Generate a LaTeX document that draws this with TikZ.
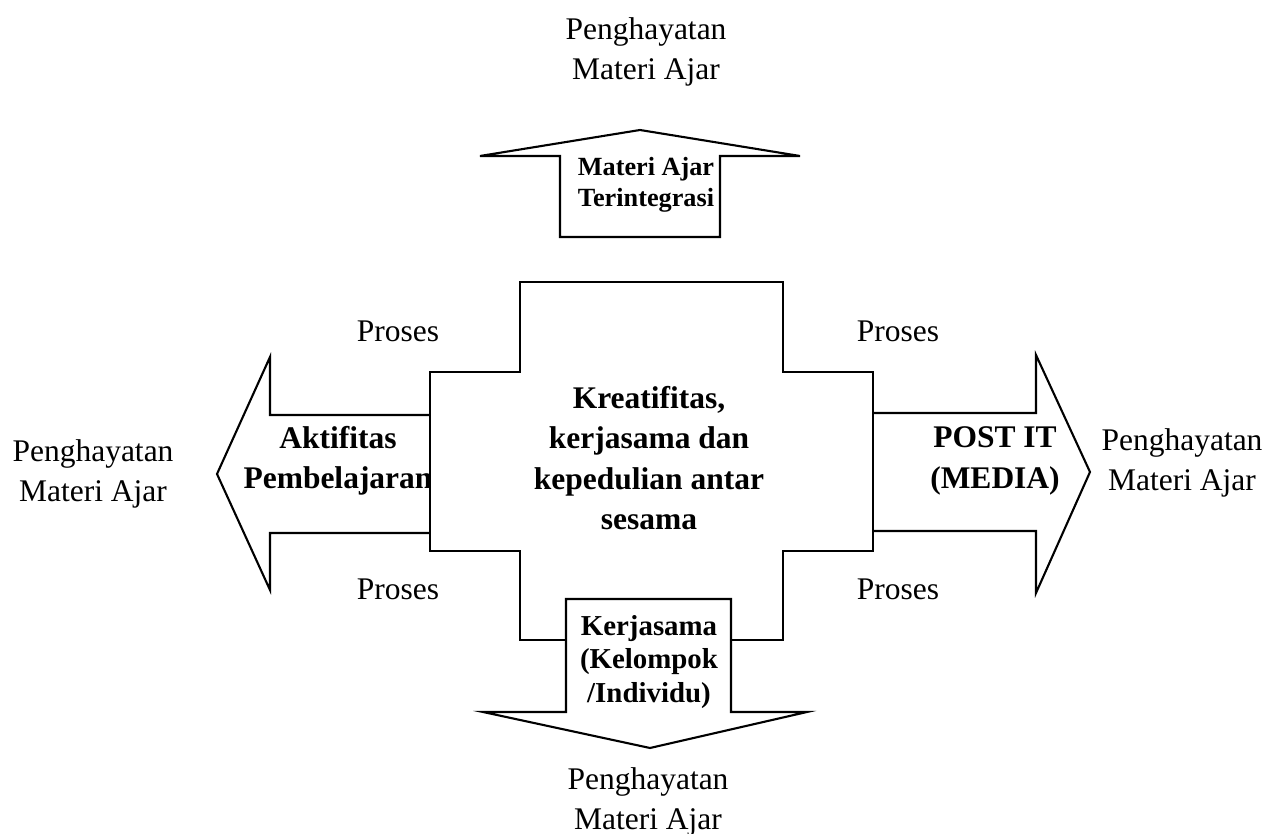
\documentclass[tikz,border=0pt]{standalone}
\usepackage{fontspec}
\setmainfont{Liberation Serif}
\begin{document}
\begin{tikzpicture}[x=0.381pt,y=-0.381pt,
    outer/.style={font=\fontsize{12}{15}\selectfont,align=center,inner sep=0pt},
    inner/.style={font=\fontsize{12}{15.3}\selectfont\bfseries,align=center,inner sep=0pt},
    small/.style={font=\fontsize{10}{12}\selectfont\bfseries,align=center,inner sep=0pt},
    medium/.style={font=\fontsize{11}{12.6}\selectfont\bfseries,align=center,inner sep=0pt},
    block/.style={draw,fill=white,line width=0.8pt,line join=miter}]
    \useasboundingbox (0,0) rectangle (1270,834);

    % Left arrow
    \draw[block] (430,415) -- (270,415) -- (270,357) -- (217,474)
        -- (270,590) -- (270,533) -- (430,533);
    \node[inner] (aktifitas) at (338,461) {Aktifitas\\Pembelajaran};

    % Right arrow
    \draw[block] (873,413) -- (1036,413) -- (1036,355) -- (1090,472)
        -- (1036,593) -- (1036,531) -- (873,531);
    \node[inner] (postit) at (995,461) {POST IT\\(MEDIA)};

    % Cross in the middle
    \draw[block] (520,282) -- (783,282) -- (783,372) -- (873,372) -- (873,551)
        -- (783,551) -- (783,640) -- (520,640) -- (520,551) -- (430,551)
        -- (430,372) -- (520,372) -- cycle;
    \node[inner] (kreatifitas) at (649,458)
        {Kreatifitas,\\kerjasama dan\\kepedulian antar\\sesama};

    % Bottom arrow
    \draw[block] (566,599) -- (731,599) -- (731,712) -- (807,712) -- (650,748)
        -- (483,712) -- (566,712) -- cycle;
    \node[medium] (kerjasama) at (649,662) {Kerjasama\\(Kelompok\\/Individu)};

    % Top arrow
    \draw[block] (560,237) -- (560,156) -- (480,156) -- (640,130) -- (800,156)
        -- (720,156) -- (720,237) -- cycle;
    \node[small] (materi) at (646,185) {Materi Ajar\\Terintegrasi};

    % Outer labels
    \node[outer] (hayatatas) at (646,52) {Penghayatan\\Materi Ajar};
    \node[outer] (hayatkiri) at (93,474) {Penghayatan\\Materi Ajar};
    \node[outer] (hayatkanan) at (1182,463) {Penghayatan\\Materi Ajar};
    \node[outer] (hayatbawah) at (648,802) {Penghayatan\\Materi Ajar};

    % Proses
    \node[outer] (proses1) at (398,331) {Proses};
    \node[outer] (proses2) at (898,331) {Proses};
    \node[outer] (proses3) at (398,589) {Proses};
    \node[outer] (proses4) at (898,589) {Proses};
\end{tikzpicture}
\end{document}
